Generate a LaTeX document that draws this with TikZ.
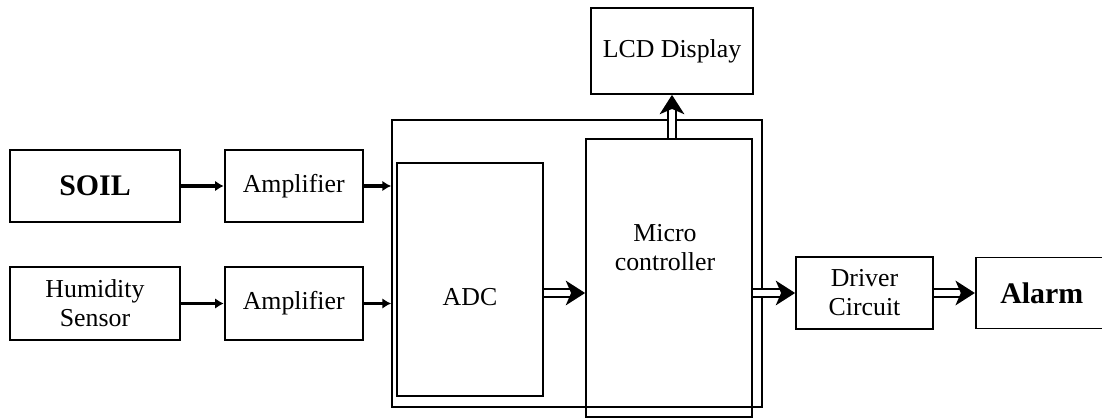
\documentclass[tikz,border=0pt]{standalone}
\usepackage{fontspec}
\setmainfont{Liberation Serif}
\usetikzlibrary{arrows.meta,positioning}

\begin{document}
\begin{tikzpicture}[
  x=0.02cm, y=-0.02cm,
  font=\fontsize{14.7}{16.5}\selectfont,
  block/.style={draw, line width=1pt, align=center, inner sep=0pt},
  bigtext/.style={font=\fontsize{17}{20}\selectfont\bfseries},
  arr/.style={-{Latex[length=5pt,width=6pt]}, line width=1.8pt},
  hollow/.style={double, double distance=3.4pt, line width=1.2pt,
    -{Stealth[length=11pt,width=14pt,inset=3pt]}}
]
\useasboundingbox (0,0) rectangle (1102,418);

% sensors and amplifiers
\node[block, bigtext, minimum width=3.4cm, minimum height=1.44cm] (soil) at (95,186) {SOIL};
\node[block, minimum width=3.4cm, minimum height=1.46cm] (hum) at (95,303.5) {Humidity\\Sensor};
\node[block, minimum width=2.76cm, minimum height=1.44cm, right=0.86cm of soil] (amp1) {Amplifier};
\node[block, minimum width=2.76cm, minimum height=1.46cm, right=0.86cm of hum] (amp2) {Amplifier};

% controller unit
\node[block, minimum width=7.4cm, minimum height=5.74cm] (unit) at (577,263.5) {};
\node[block, minimum width=2.92cm, minimum height=4.66cm] (adc) at (470,279.5) {};
\node at (470,297) (adctext) {ADC};
\node[block, minimum width=3.32cm, minimum height=5.56cm] (mc) at (669,278) {};
\node[align=center] at (665,248) (mctext) {Micro\\controller};
\node[block, minimum width=3.24cm, minimum height=1.72cm] (lcd) at (672,51) {LCD Display};

% outputs
\node[block, minimum width=2.74cm, minimum height=1.44cm] (drv) at (864.5,293) {Driver\\Circuit};
\node[block, bigtext, minimum width=2.64cm, minimum height=1.42cm, right=0.82cm of drv] (alarm) {Alarm};

\draw[arr] (soil) -- (amp1);
\draw[arr] (hum) -- (amp2);
\draw[arr] (amp1.east) -- (amp1.east -| unit.west);
\draw[arr] (amp2.east) -- (amp2.east -| unit.west);
\draw[hollow] (adc.east |- drv.west) -- (mc.west |- drv.west);
\draw[hollow] (mc.east |- drv.west) -- (drv.west);
\draw[hollow] (mc.north -| lcd.south) -- (lcd.south);
\draw[hollow] (drv) -- (alarm);
\end{tikzpicture}
\end{document}
